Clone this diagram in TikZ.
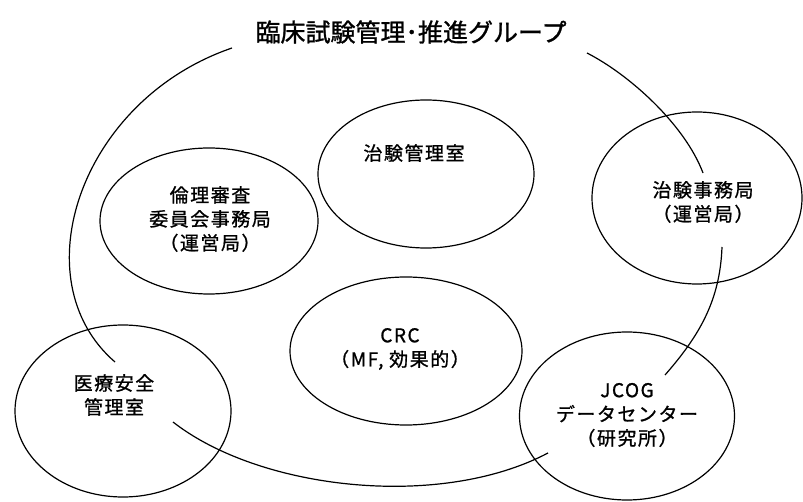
\documentclass[tikz,border=0pt]{standalone}
\usepackage{fontspec}
\newfontfamily\jptitle[FakeBold=1.2]{Noto Sans CJK JP}
\newfontfamily\jplab[LetterSpace=8,FakeBold=1]{Noto Sans CJK JP}
\usetikzlibrary{shapes.geometric}
\begin{document}
\begin{tikzpicture}[x=1pt,y=-1pt,
  oval/.style={draw, ellipse, inner sep=0pt, line width=1.2pt},
  lab/.style={font=\jplab\fontsize{19}{24}\selectfont, align=center, inner sep=0pt},
  link/.style={line width=1.2pt}]
\useasboundingbox (0,0) rectangle (803,502);
\fill[white] (0,0) rectangle (803,502);
% title
\node[font=\jptitle\fontsize{25}{28}\selectfont, inner sep=0pt] (title) at (411,32) {臨床試験管理･推進グループ};
% ovals
\node[oval, minimum width=216pt, minimum height=148pt] (eA) at (426,174) {};
\node[oval, minimum width=218pt, minimum height=146pt] (eB) at (209,221) {};
\node[oval, minimum width=210pt, minimum height=172pt] (eC) at (697,198) {};
\node[oval, minimum width=232pt, minimum height=148pt] (eD) at (406,351) {};
\node[oval, minimum width=216pt, minimum height=172pt] (eE) at (123,411) {};
\node[oval, minimum width=215pt, minimum height=168pt] (eF) at (627,416) {};
% labels
\node[lab] (tA) at (414,153) {治験管理室};
\node[lab] (tB) at (210,219) {倫理審査\\委員会事務局\\（運営局）};
\node[lab] (tC) at (703,202) {治験事務局\\（運営局）};
\node[lab] (tD) at (400,349) {CRC\\（MF, 効果的）};
\node[lab] (tE) at (114,395) {医療安全\\管理室};
\node[lab] (tF) at (627,415) {JCOG\\データセンター\\（研究所）};
% group arcs
\coordinate (g1) at (232,48);
\coordinate (g2) at (115,362);
\coordinate (g3) at (587,53);
\coordinate (g4) at (703,173);
\coordinate (g5) at (722,247);
\coordinate (g6) at (665,375);
\coordinate (g7) at (173,422);
\coordinate (g8) at (548,453);
\draw[link] (g1) .. controls (80,100) and (20,280) .. (g2);
\draw[link] (g3) .. controls (630,75) and (685,125) .. (g4);
\draw[link] (g5) .. controls (720,300) and (700,335) .. (g6);
\draw[link] (g7) .. controls (260,490) and (440,510) .. (g8);
\end{tikzpicture}
\end{document}
